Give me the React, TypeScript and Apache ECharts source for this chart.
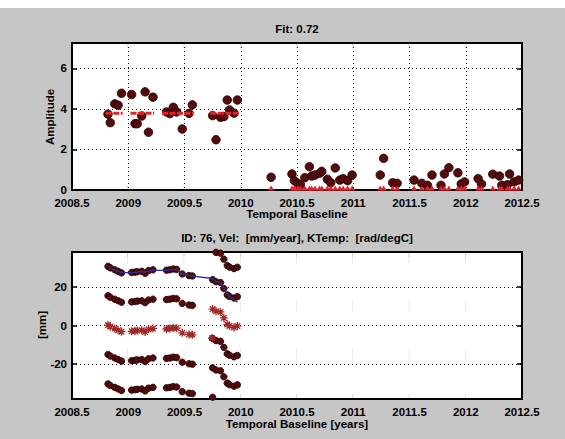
import React, { useEffect, useRef } from "react";
import * as echarts from "echarts";

// ---------- data ----------
const obsDates = [
  2008.82, 2008.84, 2008.88, 2008.91, 2008.94, 2009.03, 2009.06, 2009.08, 2009.12,
  2009.15, 2009.18, 2009.22, 2009.34, 2009.37, 2009.4, 2009.43, 2009.48, 2009.54,
  2009.57, 2009.75, 2009.78, 2009.82, 2009.85, 2009.88, 2009.9, 2009.94, 2009.97,
];
const obsAmplitude = [
  3.74, 3.32, 4.25, 4.18, 4.77, 4.71, 3.27, 3.27, 3.65, 4.84, 2.85, 4.58, 3.85, 3.77,
  4.08, 3.85, 3.01, 3.78, 4.2, 3.67, 2.48, 3.59, 3.62, 4.44, 3.95, 3.79, 4.44,
];
const lateDates = [
  2010.27, 2010.455, 2010.476, 2010.506, 2010.53, 2010.57, 2010.61, 2010.63, 2010.66,
  2010.7, 2010.72, 2010.77, 2010.8, 2010.84, 2010.88, 2010.91, 2010.95, 2010.99,
  2011.24, 2011.27, 2011.35, 2011.39, 2011.54, 2011.61, 2011.66, 2011.7, 2011.78,
  2011.81, 2011.85, 2011.93, 2011.96, 2011.99, 2012.11, 2012.14, 2012.24, 2012.3,
  2012.32, 2012.37, 2012.39, 2012.43, 2012.47,
];
const lateAmplitude = [
  0.63, 0.79, 0.46, 0.33, 0.26, 0.61, 1.15, 0.69, 0.74, 0.82, 0.92, 0.53, 0.36, 1.09,
  0.49, 0.56, 0.46, 0.74, 0.74, 1.56, 0.36, 0.33, 0.49, 0.33, 0.23, 0.74, 0.23, 0.79,
  1.1, 0.85, 0.3, 0.4, 0.56, 0.3, 0.78, 0.69, 0.23, 0.26, 0.79, 0.4, 0.49,
];
const fitLevel = 3.78;
const fitSegments = [
  [2008.8, 2008.95],
  [2009.02, 2009.23],
  [2009.3, 2009.58],
  [2009.73, 2009.98],
];
const lateFit = [
  0, 0, 0, 0, 0, 0, 0, 0, 0, 0, 0, 0, 0, 0, 0, 0, 0, 0, 0, 0, 0, 0, 0, 0, 0, 0, 0, 0,
  0, 0, 0, 0, 0, 0, 0, 0, 0, 0, 0, 0, 0,
];

// displacement [mm] – phase (asterisks) and its ambiguity copies (dots)
const phaseMm = [
  0.2, -0.6, -1.6, -2.4, -3.2, -3.0, -2.8, -2.6, -2.4, -3.4, -2.0, -1.6, -1.8, -1.6,
  -1.2, -1.4, -3.8, -4.6, -4.8, 8.5, 7.4, 7.0, 3.9, 0.6, -0.2, -1.0, -0.3,
];
const rowPlus2 = [
  30.6, 29.8, 28.8, 28.0, 27.2, 27.4, 27.6, 27.8, 28.0, 27.0, 28.4, 28.8, 28.6, 28.8,
  29.2, 29.0, 26.6, 25.8, 25.6, 38.9, 37.8, 37.4, 34.3, 31.0, 30.2, 29.4, 30.1,
];
const rowPlus1 = [
  15.4, 14.6, 13.6, 12.8, 12.0, 12.2, 12.4, 12.6, 12.8, 11.8, 13.2, 13.6, 13.4, 13.6,
  14.0, 13.8, 11.4, 10.6, 10.4, 23.7, 22.6, 22.2, 19.1, 15.8, 15.0, 14.2, 14.9,
];
const rowMinus1 = [
  -15.0, -15.8, -16.8, -17.6, -18.4, -18.2, -18.0, -17.8, -17.6, -18.6, -17.2, -16.8,
  -17.0, -16.8, -16.4, -16.6, -19.0, -19.8, -20.0, -6.7, -7.8, -8.2, -11.3, -14.6,
  -15.4, -16.2, -15.5,
];
const rowMinus2 = [
  -30.2, -31.0, -32.0, -32.8, -33.6, -33.4, -33.2, -33.0, -32.8, -33.8, -32.4, -32.0,
  -32.2, -32.0, -31.6, -31.8, -34.2, -35.0, -35.2, -21.9, -23.0, -23.4, -26.5, -29.8,
  -30.6, -31.4, -30.7,
];
const extraDotDates = [2009.75];
const extraDotVals = [-37.1];
const extraStarDates = [2009.745];
const extraStarVals = [-6.5];
const modelMm = [
  30.4, 29.7, 28.8, 28.0, 27.3, 27.3, 27.5, 27.6, 27.8, 27.7, 28.2, 28.5, 28.5, 28.7,
  29.0, 28.9, 26.6, 25.8, 25.5, 24.3, 22.8, 22.0, 19.2, 16.4, 15.0, 13.5, 12.0,
];

// x tick values (inner ticks; the outer ones sit on the frame)
const xTickValues = [2009, 2009.5, 2010, 2010.5, 2011, 2011.5, 2012];
const ampRange = [0, 7.25];
const mmRange = [-38, 38];

const xTicks = { min: 2008.5, max: 2012.5, interval: 0.5 };

const FONT = "Liberation Sans, Arial, Helvetica, sans-serif";
const DOT = "#560a0a";
const RED = "#e8202a";
const STAR = "#a02828";
const ASTERISK =
  "path://M5 0 L5 10 M0 5 L10 5 M1.5 1.5 L8.5 8.5 M1.5 8.5 L8.5 1.5";
const PLOT_H = 147;
const TICK_PX = 5;
// full-height vertical stroke (the zero-length segment gives the path a 1px-wide box)
const VLINE = `path://M0 0 L0 ${PLOT_H} M1 0 L1 0`;
// two short strokes, one at each end of the plot height
const VTICKS = `path://M0 0 L0 ${TICK_PX} M0 ${PLOT_H - TICK_PX} L0 ${PLOT_H} M1 0 L1 0`;

const zip = (xs: number[], ys: number[]) => xs.map((x, i) => [x, ys[i]]);

export default function App() {
  const ref = useRef<HTMLDivElement>(null);
  useEffect(() => {
    if (!ref.current) return;
    const chart = echarts.init(ref.current, undefined, { renderer: "svg" });

    const labelStyle = { fontFamily: FONT, fontWeight: "bold" as const, fontSize: 11.5, color: "#000" };
    const dotted = { color: "#000", width: 1, type: [1, 3] as any };
    const split = { show: true, lineStyle: dotted };
    const tick = { show: true, inside: true, length: TICK_PX, lineStyle: { color: "#000", width: 1.5 } };

    const xAx = (gridIndex: number, withSplit: boolean) => ({
      type: "value",
      gridIndex,
      position: "bottom",
      ...xTicks,
      axisLine: { show: false, onZero: false },
      axisTick: { show: false },
      splitLine: withSplit ? split : { show: false },
      axisLabel: { ...labelStyle, margin: 7, formatter: (v: number) => String(v) },
    });
    const yAx = (
      gridIndex: number,
      position: "left" | "right",
      labels: boolean,
      range: number[],
      step: number,
      interval?: number
    ) => ({
      type: "value",
      gridIndex,
      position,
      min: range[0],
      max: range[1],
      ...(interval ? { interval } : { splitNumber: 4 }),
      axisLine: { show: false, onZero: false },
      axisTick: tick,
      splitLine: labels ? split : { show: false },
      axisLabel: labels
        ? {
            ...labelStyle,
            margin: 5,
            formatter: (v: number) => (Math.abs(v % step) < 1e-9 ? String(v) : ""),
          }
        : { show: false },
    });

    // x ticks (top and bottom frame) for both panels and the lower panel's vertical
    // dotted grid: stroked path symbols centred at mid-height of each panel
    const frameSeries: any[] = [];
    [ampRange, mmRange].forEach((range, g) => {
      const mid = (range[0] + range[1]) / 2;
      const pts = xTickValues.map((v) => [v, mid]);
      if (g === 1) {
        frameSeries.push({
          type: "scatter",
          xAxisIndex: g,
          yAxisIndex: g,
          data: pts,
          symbol: VLINE,
          symbolSize: [1, PLOT_H],
          itemStyle: {
            color: "rgba(0,0,0,0)",
            borderColor: "#000",
            borderWidth: 1,
            borderType: [1, 3],
            opacity: 1,
          },
          silent: true,
          z: 1,
        });
      }
      frameSeries.push({
        type: "scatter",
        xAxisIndex: g,
        yAxisIndex: g,
        data: pts,
        symbol: VTICKS,
        symbolSize: [1, PLOT_H],
        itemStyle: {
          color: "rgba(0,0,0,0)",
          borderColor: "#000",
          borderWidth: 1.5,
          opacity: 1,
        },
        silent: true,
        z: 6,
      });
    });

    const dotStyle = { color: DOT, borderColor: "#1a0000", borderWidth: 0.8, opacity: 1 };

    const fitSeries = fitSegments.map((s) => ({
      type: "line",
      xAxisIndex: 0,
      yAxisIndex: 0,
      data: [
        [s[0], fitLevel],
        [s[1], fitLevel],
      ],
      showSymbol: false,
      lineStyle: { color: RED, width: 3, type: [6, 1.5] as any },
      z: 5,
      silent: true,
    }));

    const bottomDots = [rowPlus2, rowPlus1, rowMinus1, rowMinus2].map((row) => ({
      type: "scatter",
      xAxisIndex: 1,
      yAxisIndex: 1,
      data: zip(obsDates, row),
      symbol: "circle",
      symbolSize: 6.5,
      itemStyle: dotStyle,
      clip: true,
      z: 3,
    }));

    const text = (t: string, x: number, y: number, rotation = 0) => ({
      type: "text",
      x,
      y,
      rotation,
      style: {
        text: t,
        fill: "#000",
        font: `bold 11.5px ${FONT}`,
        textAlign: "center",
        textVerticalAlign: "middle",
      },
      z: 10,
    });

    chart.setOption({
      animation: false,
      backgroundColor: "#c6c6c6",
      grid: [
        { left: 72, top: 43, width: 450, height: PLOT_H, show: true, backgroundColor: "#fff", borderColor: "#000", borderWidth: 2 },
        { left: 72, top: 252, width: 450, height: PLOT_H, show: true, backgroundColor: "#fff", borderColor: "#000", borderWidth: 2 },
      ],
      xAxis: [xAx(0, true), xAx(1, false)],
      yAxis: [
        yAx(0, "left", true, ampRange, 2, 2),
        yAx(1, "left", true, mmRange, 20),
        yAx(0, "right", false, ampRange, 2, 2),
        yAx(1, "right", false, mmRange, 20),
      ],
      graphic: [
        { type: "rect", shape: { x: 0, y: 0, width: 565, height: 8 }, style: { fill: "#fff" }, z: 10 },
        text("Fit: 0.72", 297, 29),
        text("Amplitude", 50, 117, Math.PI / 2),
        text("Temporal Baseline", 297, 214),
        text("ID: 76, Vel:  [mm/year], KTemp:  [rad/degC]", 297, 238),
        text("[mm]", 42, 325, Math.PI / 2),
        text("Temporal Baseline [years]", 297, 424),
      ],
      series: [
        ...frameSeries,
        {
          type: "scatter",
          xAxisIndex: 0,
          yAxisIndex: 0,
          data: zip(obsDates, obsAmplitude),
          symbolSize: 8.5,
          itemStyle: dotStyle,
          z: 3,
        },
        {
          type: "scatter",
          xAxisIndex: 0,
          yAxisIndex: 0,
          data: zip(lateDates, lateAmplitude),
          symbolSize: 8.5,
          itemStyle: dotStyle,
          z: 3,
        },
        ...fitSeries,
        {
          type: "scatter",
          xAxisIndex: 0,
          yAxisIndex: 0,
          data: zip(lateDates, lateFit),
          symbol: "triangle",
          symbolSize: [6, 5],
          symbolOffset: [0, -2],
          itemStyle: { color: RED, opacity: 1 },
          z: 5,
        },
        ...bottomDots,
        {
          type: "scatter",
          xAxisIndex: 1,
          yAxisIndex: 1,
          data: zip(extraDotDates, extraDotVals),
          symbolSize: 6.5,
          itemStyle: dotStyle,
          clip: true,
          z: 3,
        },
        {
          type: "scatter",
          xAxisIndex: 1,
          yAxisIndex: 1,
          data: [...zip(obsDates, phaseMm), ...zip(extraStarDates, extraStarVals)],
          symbol: ASTERISK,
          symbolSize: 8,
          itemStyle: { color: "rgba(0,0,0,0)", borderColor: STAR, borderWidth: 1.3, opacity: 1 },
          clip: true,
          z: 4,
        },
        {
          type: "line",
          xAxisIndex: 1,
          yAxisIndex: 1,
          data: zip(obsDates, modelMm),
          showSymbol: false,
          lineStyle: { color: "#2e2e9a", width: 1.3 },
          z: 5,
        },
      ],
    });

    return () => chart.dispose();
  }, []);
  return (
    <div
      ref={ref}
      style={{ position: "fixed", left: 0, top: 0, width: 565, height: 439 }}
    />
  );
}
